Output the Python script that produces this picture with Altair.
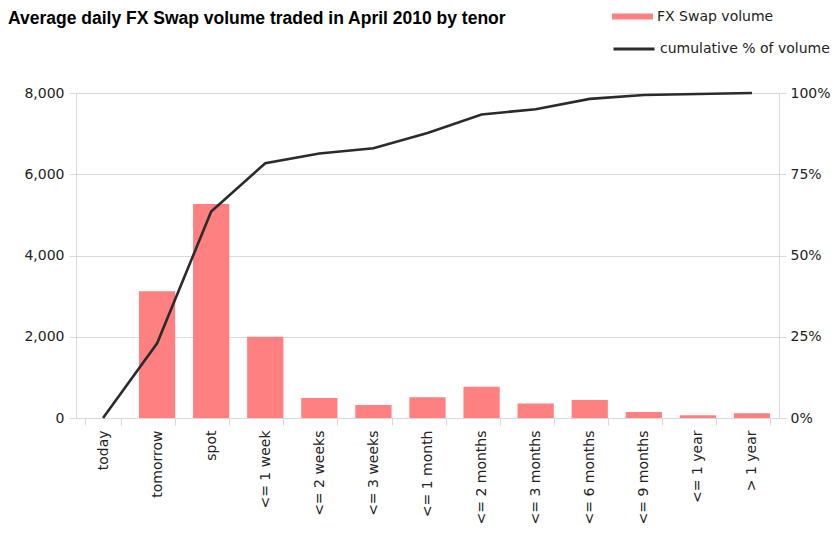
import altair as alt
import pandas as pd

categories = ["today", "tomorrow", "spot", "<= 1 week", "<= 2 weeks", "<= 3 weeks",
              "<= 1 month", "<= 2 months", "<= 3 months", "<= 6 months",
              "<= 9 months", "<= 1 year", "> 1 year"]
volume = [0, 3120, 5270, 2000, 490, 320, 510, 770, 360, 443, 150, 70, 115]
cumulative = [0.0, 0.23, 0.635, 0.784, 0.814, 0.83, 0.877, 0.934, 0.95, 0.982, 0.994, 0.997, 1.0]
left_ticks = [0, 2000, 4000, 6000, 8000]
right_ticks = [0, 0.25, 0.5, 0.75, 1.0]

df = pd.DataFrame({
    "tenor": categories,
    "volume": volume,
    "cum": cumulative,
    "s1": "FX Swap volume",
    "s2": "cumulative % of volume",
})

FONT = "DejaVu Sans"
GRID = "#D9D9D9"
LBL = "#222222"

x_enc = alt.X(
    "tenor:N", sort=categories,
    scale=alt.Scale(paddingInner=0.33, paddingOuter=0.165),
    axis=alt.Axis(title=None, labelAngle=-90, tickBand="extent", tickSize=7,
                  labelPadding=5, domainColor=GRID, tickColor=GRID,
                  labelFont=FONT, labelFontSize=14, labelColor=LBL, grid=False),
)

bars = alt.Chart(df).mark_bar().encode(
    x=x_enc,
    y=alt.Y("volume:Q", scale=alt.Scale(domain=[0, 8000], nice=False),
            axis=alt.Axis(title=None, values=left_ticks, format=",d", tickSize=7,
                          labelPadding=5, domainColor=GRID, tickColor=GRID,
                          gridColor=GRID, gridWidth=1.2, labelFont=FONT,
                          labelFontSize=14, labelColor=LBL)),
    color=alt.Color("s1:N", scale=alt.Scale(domain=["FX Swap volume"], range=["#FF8080"]),
                    legend=alt.Legend(title=None, orient="none", legendX=536, legendY=-97,
                                      symbolType="M-1,-0.146H1V0.146H-1Z", symbolSize=1681,
                                      symbolStrokeWidth=0, labelFont=FONT, labelFontSize=14,
                                      labelColor=LBL, labelOffset=4, padding=0, labelLimit=0)),
)

line = alt.Chart(df).mark_line(color="#2B2B2B", strokeWidth=2.6).encode(
    x=alt.X("tenor:N", sort=categories),
    y=alt.Y("cum:Q", scale=alt.Scale(domain=[0, 1], nice=False),
            axis=alt.Axis(title=None, orient="right", values=right_ticks, format=".0%",
                          tickSize=7, labelPadding=4, domainColor=GRID, tickColor=GRID,
                          grid=False, labelFont=FONT, labelFontSize=14, labelColor=LBL)),
    stroke=alt.Stroke("s2:N", scale=alt.Scale(domain=["cumulative % of volume"], range=["#2B2B2B"]),
                      legend=alt.Legend(title=None, orient="none", legendX=536, legendY=-66,
                                        symbolType="stroke", symbolSize=1681,
                                        symbolStrokeWidth=3, labelFont=FONT, labelFontSize=14,
                                        labelColor=LBL, labelOffset=4, padding=0, labelLimit=0)),
)

chart = alt.layer(bars, line).resolve_scale(y="independent").properties(
    width=703, height=325,
    autosize=alt.AutoSizeParams(type="none"),
    padding={"left": 68, "top": 85, "right": 52, "bottom": 120},
    title=alt.TitleParams(
        "Average daily FX Swap volume traded in April 2010 by tenor",
        anchor="start", frame="group", dx=-68, offset=0, dy=45, baseline="alphabetic",
        font="Liberation Sans", fontSize=17.5, fontWeight="bold", color="#000000",
    ),
).configure_view(stroke=None).configure(background="white")

chart.save("out.html", embed_options={"renderer": "svg", "actions": False})
